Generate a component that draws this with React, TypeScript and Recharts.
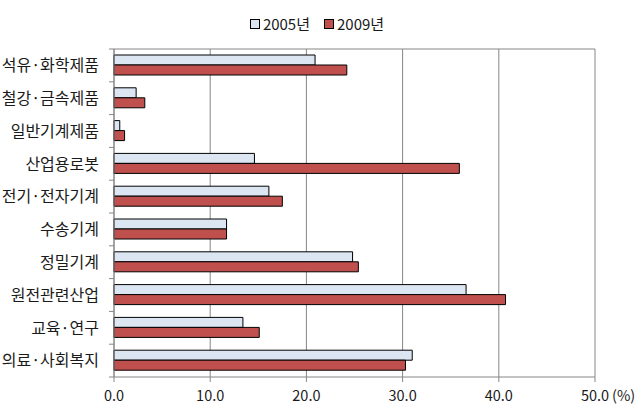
import { BarChart, Bar, XAxis, YAxis, CartesianGrid, Legend } from "recharts";

const categories = [
  "석유·화학제품",
  "철강·금속제품",
  "일반기계제품",
  "산업용로봇",
  "전기·전자기계",
  "수송기계",
  "정밀기계",
  "원전관련산업",
  "교육·연구",
  "의료·사회복지",
];
const values2005 = [20.9, 2.3, 0.6, 14.6, 16.1, 11.7, 24.8, 36.6, 13.4, 31.0];
const values2009 = [24.2, 3.2, 1.1, 35.9, 17.5, 11.7, 25.4, 40.7, 15.1, 30.3];
const seriesNames = ["2005년", "2009년"];
const xTicks = [0, 10, 20, 30, 40, 50];

const data = categories.map((name, i) => ({
  name,
  v2005: values2005[i],
  v2009: values2009[i],
}));

const FONT = '"Noto Sans CJK KR", "Noto Sans", sans-serif';
const GRID = "#868686";
const TEXT = "#1a1a1a";
const COLORS = ["#dce6f2", "#c0504d"];

const W = 644;
const H = 417;
const MARGIN = { top: 8, right: 49, left: 0, bottom: 10 };
const LEGEND_H = 41;
const X_AXIS_H = 30;
const Y_AXIS_W = 114;
const PLOT_H = H - MARGIN.top - MARGIN.bottom - LEGEND_H - X_AXIS_H;
const BAND = PLOT_H / categories.length;
const TICK_SIZE = 5;
const Y_TICK_MARGIN = 10;

function CategoryTick(props: any) {
  const { x, y, payload, index } = props;
  const lx = x + Y_TICK_MARGIN;
  return (
    <g>
      <line x1={lx} x2={lx + TICK_SIZE} y1={y - BAND / 2} y2={y - BAND / 2} stroke={GRID} />
      {index === categories.length - 1 && (
        <line x1={lx} x2={lx + TICK_SIZE} y1={y + BAND / 2} y2={y + BAND / 2} stroke={GRID} />
      )}
      <text
        x={x}
        y={y}
        dy="0.36em"
        textAnchor="end"
        fill={TEXT}
        fontSize={16}
        fontFamily={FONT}
      >
        {payload.value}
      </text>
    </g>
  );
}

function ValueTick(props: any) {
  const { x, y, payload } = props;
  const label = Number(payload.value).toFixed(1);
  return (
    <g>
      <text x={x} y={y} dy="0.71em" textAnchor="middle" fill={TEXT} fontSize={14.5} fontFamily={FONT}>
        {label}
      </text>
      {payload.value === 50 && (
        <text x={x + 17} y={y} dy="0.71em" textAnchor="start" fill={TEXT} fontSize={14.5} fontFamily={FONT}>
          (%)
        </text>
      )}
    </g>
  );
}

function LegendContent() {
  return (
    <div
      style={{
        height: LEGEND_H,
        display: "flex",
        justifyContent: "center",
        alignItems: "flex-start",
        paddingTop: 5,
        paddingRight: 10,
        boxSizing: "border-box",
        fontFamily: FONT,
        fontSize: 15,
        color: TEXT,
      }}
    >
      {seriesNames.map((n, i) => (
        <div key={n} style={{ display: "flex", alignItems: "center", marginRight: i === 0 ? 14 : 0 }}>
          <span
            style={{
              display: "inline-block",
              width: 8,
              height: 8,
              background: COLORS[i],
              border: "1px solid #000",
              marginRight: 3,
            }}
          />
          <span>{n}</span>
        </div>
      ))}
    </div>
  );
}

export default function App() {
  return (
    <div style={{ position: "absolute", left: 0, top: 0, background: "#fff" }}>
      <BarChart
        width={W}
        height={H}
        data={data}
        layout="vertical"
        margin={MARGIN}
        barSize={10}
        barGap={0}
      >
        <CartesianGrid
          stroke={GRID}
          strokeDasharray=""
          horizontalCoordinatesGenerator={({ offset }: any) => [offset.top]}
        />
        <Legend
          verticalAlign="top"
          content={<LegendContent />}
          wrapperStyle={{ left: 0, width: W, height: LEGEND_H }}
        />
        <XAxis
          type="number"
          domain={[0, 50]}
          ticks={xTicks}
          height={X_AXIS_H}
          axisLine={{ stroke: GRID }}
          tickLine={{ stroke: GRID }}
          tickSize={TICK_SIZE}
          tickMargin={9}
          tick={<ValueTick />}
          interval={0}
        />
        <YAxis
          type="category"
          dataKey="name"
          width={Y_AXIS_W}
          axisLine={{ stroke: GRID }}
          tickLine={false}
          tickSize={TICK_SIZE}
          tickMargin={Y_TICK_MARGIN}
          tick={<CategoryTick />}
          interval={0}
        />
        <Bar dataKey="v2005" name={seriesNames[0]} fill={COLORS[0]} stroke="#000" strokeWidth={1} isAnimationActive={false} />
        <Bar dataKey="v2009" name={seriesNames[1]} fill={COLORS[1]} stroke="#000" strokeWidth={1} isAnimationActive={false} />
      </BarChart>
    </div>
  );
}
